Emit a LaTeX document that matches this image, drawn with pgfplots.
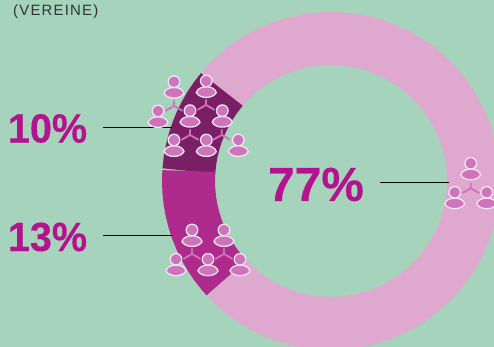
\documentclass[border=0pt]{standalone}
\usepackage{fontspec}
\usepackage{graphicx}
\setmainfont{Liberation Sans}
\newfontfamily\spaced[LetterSpace=8]{Liberation Sans}
\newfontfamily\pctfont[BoldFeatures={FakeBold=0.3}]{Liberation Sans}
\usepackage{pgfplots}
\pgfplotsset{compat=1.18}
\definecolor{bg}{HTML}{A6D3BC}
\definecolor{ringlight}{HTML}{DFA8CE}
\definecolor{ringdark}{HTML}{7A1F66}
\definecolor{ringmid}{HTML}{AE2A8C}
\definecolor{pct}{HTML}{B5128F}
\definecolor{person}{HTML}{CF74BC}
\definecolor{outline}{HTML}{F3E6EE}
% A figure drawn around its head; the origin is the centre of the head.
\pgfdeclareplotmark{person}{%
  \pgfsetlinewidth{1.3bp}%
  \pgfsetstrokecolor{outline}%
  \pgfsetfillcolor{person}%
  \pgfpathcircle{\pgfpointorigin}{5.8bp}%
  \pgfusepath{fill,stroke}%
  \pgfpathmoveto{\pgfpoint{-10bp}{-11.6bp}}%
  \pgfpathcurveto{\pgfpoint{-9bp}{-7.8bp}}{\pgfpoint{-5bp}{-5.8bp}}{\pgfpoint{0bp}{-5.8bp}}%
  \pgfpathcurveto{\pgfpoint{5bp}{-5.8bp}}{\pgfpoint{9bp}{-7.8bp}}{\pgfpoint{10bp}{-11.6bp}}%
  \pgfpathcurveto{\pgfpoint{8.2bp}{-15bp}}{\pgfpoint{4bp}{-16.4bp}}{\pgfpoint{0bp}{-16.4bp}}%
  \pgfpathcurveto{\pgfpoint{-4bp}{-16.4bp}}{\pgfpoint{-8.2bp}{-15bp}}{\pgfpoint{-10bp}{-11.6bp}}%
  \pgfpathclose
  \pgfusepath{fill,stroke}%
}
% Three-legged connector between the figures of a group.
\pgfdeclareplotmark{tripod}{%
  \pgfsetlinewidth{1.8bp}%
  \pgfsetstrokecolor{person}%
  \pgfpathmoveto{\pgfpoint{0bp}{5.5bp}}%
  \pgfpathlineto{\pgfpointorigin}%
  \pgfpathmoveto{\pgfpoint{-8.5bp}{-4.8bp}}%
  \pgfpathlineto{\pgfpointorigin}%
  \pgfpathlineto{\pgfpoint{8.5bp}{-4.8bp}}%
  \pgfusepath{stroke}%
}
\begin{document}
\begin{tikzpicture}
\useasboundingbox (0,0) rectangle (494bp,347bp);
\begin{axis}[
  at={(0,0)}, anchor=south west,
  scale only axis, width=494bp, height=347bp,
  xmin=-331, xmax=163, ymin=-166, ymax=181,
  axis lines=none,
  axis background/.style={fill=bg},
  clip mode=global,
]
% Ring segments: 77 %, 10 % and 13 % of the turn, given as angle and mid radius.
\addplot[ringlight, line width=53bp, data cs=polar] coordinates {
  (222.8,142.5) (226,142.5) (230,142.5) (234,142.5) (238,142.5) (242,142.5)
  (246,142.5) (250,142.5) (254,142.5) (258,142.5) (262,142.5) (266,142.5)
  (270,142.5) (274,142.5) (278,142.5) (282,142.5) (286,142.5) (290,142.5)
  (294,142.5) (298,142.5) (302,142.5) (306,142.5) (310,142.5) (314,142.5)
  (318,142.5) (322,142.5) (326,142.5) (330,142.5) (334,142.5) (338,142.5)
  (342,142.5) (346,142.5) (350,142.5) (354,142.5) (358,142.5) (362,142.5)
  (366,142.5) (370,142.5) (374,142.5) (378,142.5) (382,142.5) (386,142.5)
  (390,142.5) (394,142.5) (398,142.5) (402,142.5) (406,142.5) (410,142.5)
  (414,142.5) (418,142.5) (422,142.5) (426,142.5) (430,142.5) (434,142.5)
  (438,142.5) (442,142.5) (446,142.5) (450,142.5) (454,142.5) (458,142.5)
  (462,142.5) (466,142.5) (470,142.5) (474,142.5) (478,142.5) (482,142.5)
  (486,142.5) (490,142.5) (494,142.5) (498,142.5) (500,142.5)
};
\addplot[ringdark, line width=53bp, data cs=polar] coordinates {
  (140,142.5) (144,142.5) (148,142.5) (152,142.5) (156,142.5)
  (160,142.5) (164,142.5) (168,142.5) (172,142.5) (176,142.5)
};
\addplot[ringmid, line width=53bp, data cs=polar] coordinates {
  (176,142.5) (180,142.5) (184,142.5) (188,142.5) (192,142.5) (196,142.5)
  (200,142.5) (204,142.5) (208,142.5) (212,142.5) (216,142.5) (220,142.5)
  (222.8,142.5)
};
% Leader lines from the percentages to the ring.
\addplot[black, line width=1.1bp] coordinates {(-228,53.5) (-159,53.5)};
\addplot[black, line width=1.1bp] coordinates {(-228,-54.5) (-159,-54.5)};
\addplot[black, line width=1.1bp] coordinates {(49,-1.5) (117.5,-1.5)};
% Connectors and figures of the three groups.
\addplot[only marks, mark=tripod] coordinates {
  (-157,75) (-125,76) (-141,46) (-109.3,46)
  (-139,-73) (-107,-73) (139.7,-7.3)
};
\addplot[only marks, mark=person] coordinates {
  (-157,99.3) (-124.7,100) (-173,70) (-141,70.3) (-108.7,70.3)
  (-157,41) (-124.7,41) (-92.7,41)
  (-139,-49) (-107,-49) (-155,-78.3) (-123,-78.3) (-91,-78.3)
  (139.7,17.7) (123.7,-11.3) (155.7,-11.3)
};
% Percentages and heading.
\node[text=pct, font=\pctfont\bfseries\fontsize{41}{41}\selectfont, inner sep=0pt] at (axis cs:-283.5,52.5) {\scalebox{.97}[1]{10\%}};
\node[text=pct, font=\pctfont\bfseries\fontsize{41}{41}\selectfont, inner sep=0pt] at (axis cs:-283.5,-56) {\scalebox{.97}[1]{13\%}};
\node[text=pct, font=\pctfont\bfseries\fontsize{48}{48}\selectfont, inner sep=0pt] at (axis cs:-15,-3.5) {77\%};
\node[anchor=west, text=black!80, font=\spaced\fontsize{15}{15}\selectfont, inner sep=0pt] at (axis cs:-318,169.5) {(VEREINE)};
\end{axis}
\end{tikzpicture}
\end{document}
